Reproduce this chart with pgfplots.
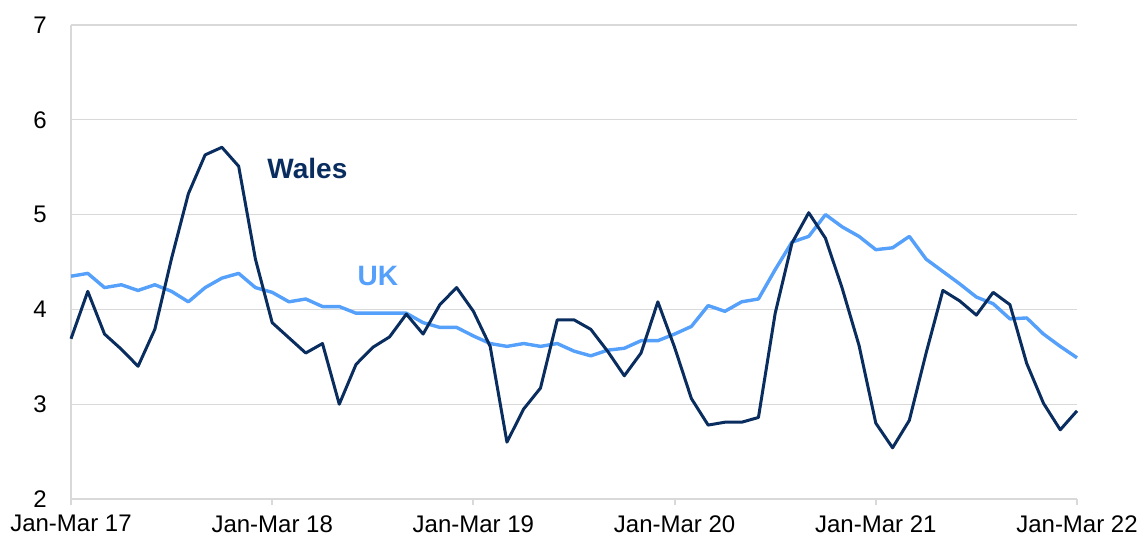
\documentclass[border=0pt]{standalone}
\usepackage{fontspec}
\setmainfont{Liberation Sans}
\usepackage{pgfplots}
\pgfplotsset{compat=1.18}
\definecolor{wales}{RGB}{10,45,95}
\definecolor{uk}{RGB}{85,160,250}
\definecolor{gridc}{RGB}{217,217,217}
\pgfplotstableread{
i wales uk
0 3.69 4.35
1 4.19 4.38
2 3.74 4.23
3 3.58 4.26
4 3.40 4.20
5 3.79 4.26
6 4.54 4.19
7 5.22 4.08
8 5.63 4.23
9 5.71 4.33
10 5.51 4.38
11 4.53 4.23
12 3.86 4.18
13 3.70 4.08
14 3.54 4.11
15 3.64 4.03
16 3.00 4.03
17 3.42 3.96
18 3.60 3.96
19 3.71 3.96
20 3.95 3.96
21 3.74 3.86
22 4.05 3.81
23 4.23 3.81
24 3.98 3.72
25 3.61 3.64
26 2.60 3.61
27 2.95 3.64
28 3.17 3.61
29 3.89 3.64
30 3.89 3.56
31 3.79 3.51
32 3.56 3.57
33 3.30 3.59
34 3.54 3.67
35 4.08 3.67
36 3.60 3.74
37 3.06 3.82
38 2.78 4.04
39 2.81 3.98
40 2.81 4.08
41 2.86 4.11
42 3.96 4.42
43 4.70 4.71
44 5.02 4.77
45 4.75 5.00
46 4.22 4.87
47 3.62 4.77
48 2.80 4.63
49 2.54 4.65
50 2.83 4.77
51 3.54 4.53
52 4.20 4.40
53 4.09 4.27
54 3.94 4.13
55 4.18 4.06
56 4.05 3.90
57 3.43 3.91
58 3.01 3.74
59 2.73 3.61
60 2.93 3.49
}\datatable
\begin{document}
\begin{tikzpicture}
\path[use as bounding box] (0,0) rectangle (570.5pt,271.5pt);
\begin{axis}[
  at={(35.5pt,22pt)}, anchor=south west,
  scale only axis, width=503pt, height=237pt,
  xmin=0, xmax=60, ymin=2, ymax=7,
  xtick={0,12,24,36,48,60},
  xticklabels={Jan-Mar 17,Jan-Mar 18,Jan-Mar 19,Jan-Mar 20,Jan-Mar 21,Jan-Mar 22},
  ytick={2,3,4,5,6,7},
  axis x line=bottom, axis y line=left,
  axis line style={-, gridc, line width=1pt},
  ymajorgrids, grid style={gridc, line width=0.6pt},
  tick align=outside,
  major tick length=3pt,
  xtick style={gridc, line width=1pt},
  ytick style={draw=none},
  /pgf/number format/assume math mode=true,
  tick label style={font=\fontsize{12}{14}\selectfont, text=black},
  xticklabel style={inner sep=0pt, yshift=-5pt},
  yticklabel style={inner sep=0pt, xshift=-9pt},
  clip=false,
]
\addplot[uk, line width=1.7pt, line join=round] table[x=i, y=uk] {\datatable};
\addplot[wales, line width=1.5pt, line join=round] table[x=i, y=wales] {\datatable};
\node[font=\bfseries\fontsize{14}{16}\selectfont, text=wales] at (axis cs:14.1,5.49) {Wales};
\node[font=\bfseries\fontsize{14}{16}\selectfont, text=uk] at (axis cs:18.3,4.35) {UK};
\end{axis}
\end{tikzpicture}
\end{document}
